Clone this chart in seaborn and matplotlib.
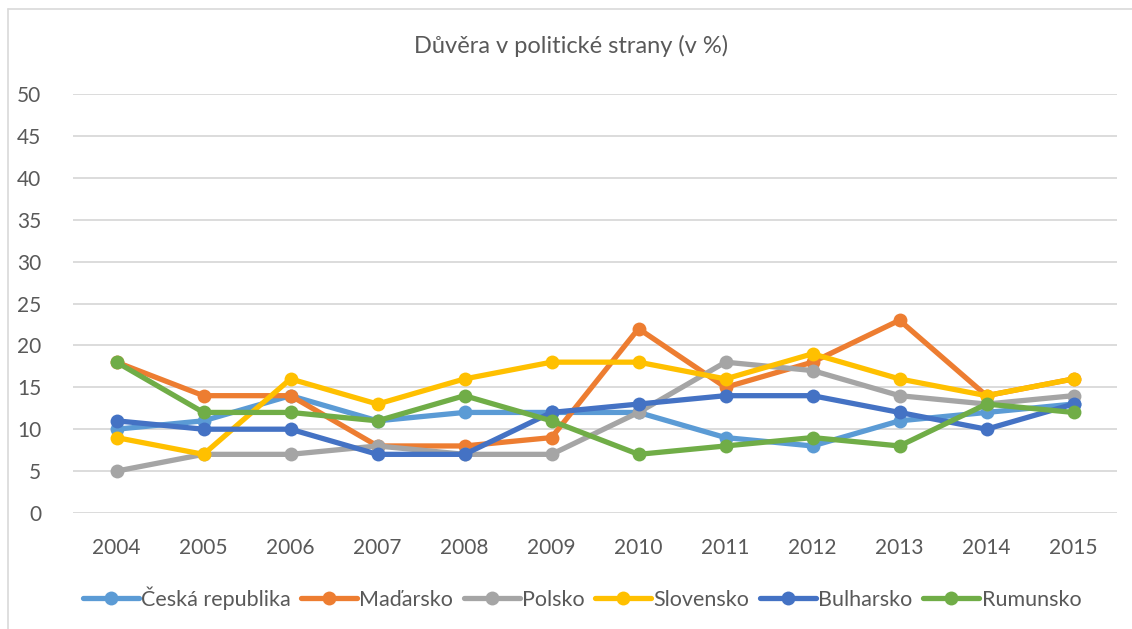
import matplotlib
matplotlib.use("Agg")
import matplotlib.pyplot as plt
import seaborn as sns
import pandas as pd
from matplotlib.lines import Line2D

years = [2004, 2005, 2006, 2007, 2008, 2009, 2010, 2011, 2012, 2013, 2014, 2015]
countries = ["Česká republika", "Maďarsko", "Polsko", "Slovensko", "Bulharsko", "Rumunsko"]
cesko = [10, 11, 14, 11, 12, 12, 12, 9, 8, 11, 12, 13]
madarsko = [18, 14, 14, 8, 8, 9, 22, 15, 18, 23, 14, 16]
polsko = [5, 7, 7, 8, 7, 7, 12, 18, 17, 14, 13, 14]
slovensko = [9, 7, 16, 13, 16, 18, 18, 16, 19, 16, 14, 16]
bulharsko = [11, 10, 10, 7, 7, 12, 13, 14, 14, 12, 10, 13]
rumunsko = [18, 12, 12, 11, 14, 11, 7, 8, 9, 8, 13, 12]
colors = ["#5B9BD5", "#ED7D31", "#A5A5A5", "#FFC000", "#4472C4", "#70AD47"]
title = "Důvěra v politické strany (v %)"

series = [cesko, madarsko, polsko, slovensko, bulharsko, rumunsko]
rows = []
for name, vals in zip(countries, series):
    for y, v in zip(years, vals):
        rows.append({"rok": y, "hodnota": v, "zeme": name})
df = pd.DataFrame(rows)

sns.set_theme(style="white")
plt.rcParams["font.family"] = ["Lato", "DejaVu Sans"]
text_color = "#595959"

fig = plt.figure(figsize=(11.32, 6.29), dpi=100)
ax = fig.add_axes([73 / 1132, (629 - 513) / 629, (1117 - 73) / 1132, (513 - 94) / 629])

ax.set_ylim(0, 50)
ax.set_xlim(years[0] - 0.5, years[-1] + 0.5)
ax.set_yticks(range(0, 51, 5))
ax.set_xticks(years)
ax.grid(axis="y", color="#D9D9D9", linewidth=1.3)
ax.set_axisbelow(True)

sns.lineplot(data=df, x="rok", y="hodnota", hue="zeme", hue_order=countries,
             palette=colors, marker="o", markersize=10, markeredgewidth=0,
             linewidth=3.8, ax=ax, legend=False, zorder=3)

for s in ax.spines.values():
    s.set_visible(False)
ax.tick_params(axis="both", length=0, labelsize=15, colors=text_color)
ax.tick_params(axis="y", pad=23)
ax.tick_params(axis="x", pad=18)
ax.set_xlabel("")
ax.set_ylabel("")

fig.text(0.5 + 5 / 1132, 1 - 46 / 629, title, ha="center", va="center", fontsize=17, color=text_color)

handles = [Line2D([0], [0], color=c, linewidth=3.8, marker="o", markersize=10,
                  markeredgewidth=0) for c in colors]
fig.legend(handles, countries, loc="center", bbox_to_anchor=(0.514, 1 - 598 / 629),
           ncol=6, frameon=False, fontsize=15.5, labelcolor=text_color,
           handlelength=2.6, handletextpad=0.1, columnspacing=0.5)

# chart border (left and top visible)
fig.add_artist(Line2D([8 / 1132, 8 / 1132], [0, 1 - 9 / 629], transform=fig.transFigure,
                      color="#D9D9D9", linewidth=1.2))
fig.add_artist(Line2D([8 / 1132, 1], [1 - 9 / 629, 1 - 9 / 629], transform=fig.transFigure,
                      color="#D9D9D9", linewidth=1.2))

fig.savefig("out.png", dpi=100)
